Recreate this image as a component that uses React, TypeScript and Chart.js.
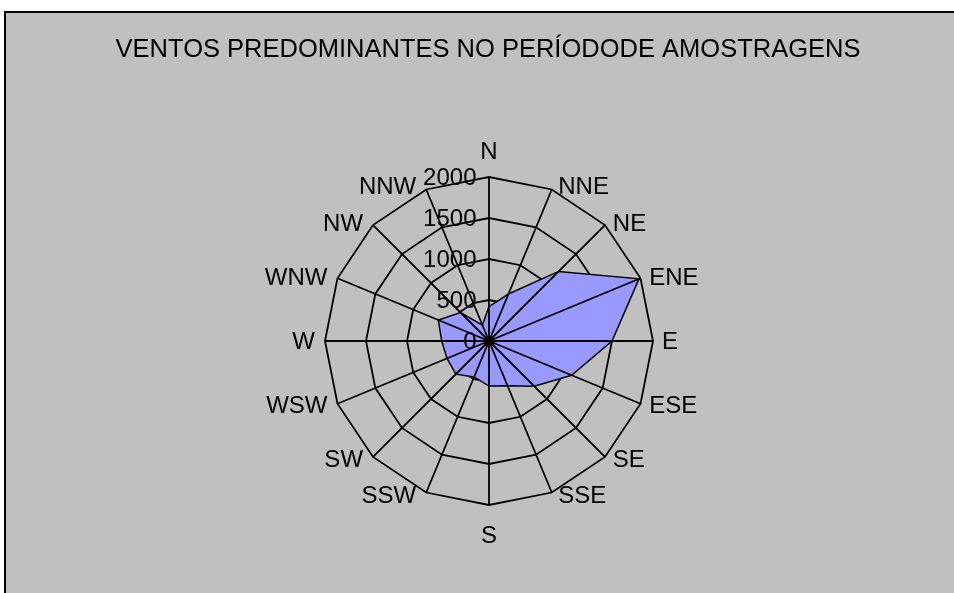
import React, { useEffect, useRef } from "react";
import { Chart, registerables } from "chart.js";

Chart.register(...registerables);

const TITLE = "VENTOS PREDOMINANTES NO PERÍODODE AMOSTRAGENS";
const directions = ["N", "NNE", "NE", "ENE", "E", "ESE", "SE", "SSE", "S", "SSW", "SW", "WSW", "W", "WNW", "NW", "NNW"];
const windValues = [420, 620, 1200, 1980, 1500, 1090, 780, 590, 550, 475, 572, 554, 577, 669, 490, 210];
const tickValues = [0, 500, 1000, 1500, 2000];

const FONT = "'Liberation Sans', Arial, sans-serif";

const overlayPlugin = {
  id: "excelOverlay",
  afterDatasetsDraw(chart: any) {
    const scale = chart.scales.r;
    const ctx = chart.ctx as CanvasRenderingContext2D;
    const n = directions.length;
    const max = tickValues[tickValues.length - 1];
    ctx.save();
    // spokes drawn over the filled area
    ctx.strokeStyle = "#000";
    ctx.lineWidth = 1.8;
    ctx.beginPath();
    for (let i = 0; i < n; i++) {
      const p = scale.getPointPositionForValue(i, max);
      ctx.moveTo(scale.xCenter, scale.yCenter);
      ctx.lineTo(p.x, p.y);
    }
    ctx.stroke();

    // tick labels, right-aligned left of the N axis
    ctx.fillStyle = "#000";
    ctx.font = `24px ${FONT}`;
    ctx.textAlign = "right";
    ctx.textBaseline = "middle";
    for (const v of tickValues) {
      const p = scale.getPointPositionForValue(0, v);
      ctx.fillText(String(v), p.x - 12.5, p.y + 1.5);
    }

    // direction labels
    for (let i = 0; i < n; i++) {
      const p = scale.getPointPositionForValue(i, max);
      const ang = scale.getIndexAngle(i);
      const s = Math.sin(ang);
      const c = Math.cos(ang);
      let x = p.x;
      let y = p.y;
      if (Math.abs(s) < 1e-6) {
        ctx.textAlign = "center";
        y = c > 0 ? p.y - 25 : p.y + 31;
      } else if (s > 0) {
        ctx.textAlign = "left";
        x = p.x + 5 + 4 * s;
        y = p.y + 1 - 3 * c;
      } else {
        ctx.textAlign = "right";
        x = p.x - 10;
        y = p.y + 1 - 3 * c;
      }
      ctx.fillText(directions[i], x, y);
    }

    // title
    ctx.textAlign = "center";
    ctx.font = `25.5px ${FONT}`;
    ctx.fillText(TITLE, scale.xCenter - 1, 50);
    ctx.restore();
  },
};

export default function App() {
  const canvasRef = useRef<HTMLCanvasElement | null>(null);

  useEffect(() => {
    if (!canvasRef.current) return;
    const chart = new Chart(canvasRef.current, {
      type: "radar",
      data: {
        labels: directions,
        datasets: [
          {
            data: windValues,
            backgroundColor: "#9999FF",
            borderColor: "#000000",
            borderWidth: 1.5,
            pointRadius: 0,
            pointHoverRadius: 0,
            fill: true,
            tension: 0,
          },
        ],
      },
      options: {
        responsive: false,
        animation: false,
        devicePixelRatio: 1,
        layout: { padding: { left: 325, right: 301, top: 177, bottom: 88 } },
        plugins: {
          legend: { display: false },
          title: { display: false },
          tooltip: { enabled: false },
        },
        scales: {
          r: {
            min: 0,
            max: 2000,
            beginAtZero: true,
            ticks: { stepSize: 500, display: false },
            grid: { color: "#000", lineWidth: 1.8, circular: false },
            angleLines: { display: false },
            pointLabels: { display: false },
          },
        },
      },
      plugins: [overlayPlugin],
    });
    return () => chart.destroy();
  }, []);

  return (
    <div
      style={{
        position: "fixed",
        left: 0,
        top: 0,
        width: 954,
        height: 593,
        overflow: "hidden",
        background: "#ffffff",
      }}
    >
      <div
        style={{
          position: "absolute",
          left: 4,
          top: 11,
          width: 1000,
          height: 700,
          border: "2px solid #000",
          background: "#C0C0C0",
        }}
      />
      <canvas
        ref={canvasRef}
        width={954}
        height={593}
        style={{ position: "absolute", left: 0, top: 0, width: 954, height: 593 }}
      />
    </div>
  );
}
